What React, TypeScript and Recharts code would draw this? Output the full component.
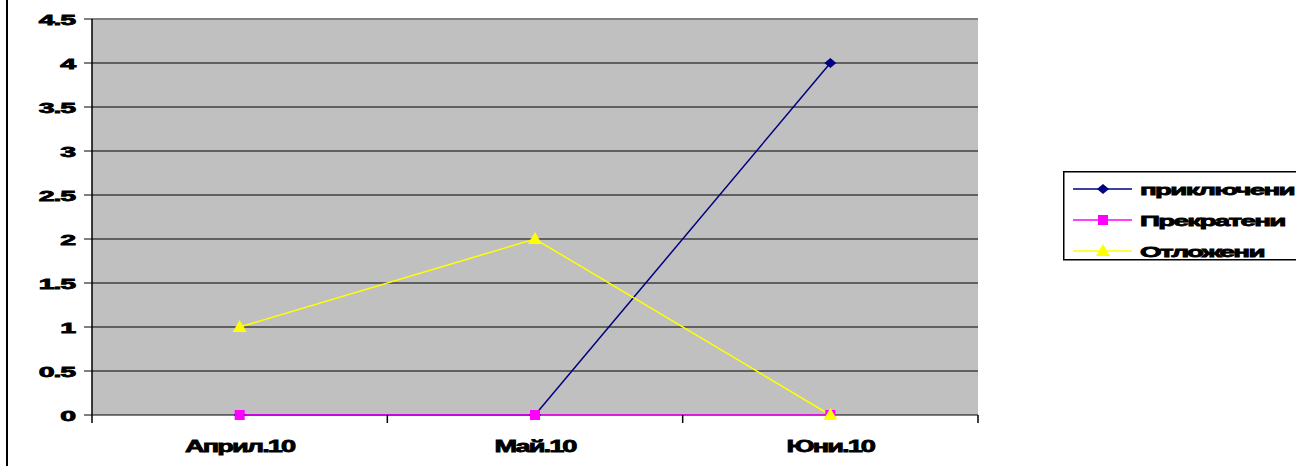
import { CartesianGrid, Line, LineChart, ReferenceLine, XAxis, YAxis } from "recharts";

const categories = ["Април.10", "Май.10", "Юни.10"];
const completed = [0, 0, 4];
const terminated = [0, 0, 0];
const postponed = [1, 2, 0];
const yTicks = [0, 0.5, 1, 1.5, 2, 2.5, 3, 3.5, 4, 4.5];
const xTicks = [0, 0.5, 1, 1.5, 2, 2.5, 3];
const seriesNames = ["приключени", "Прекратени", "Отложени"];
const seriesColors = ["#000080", "#FF00FF", "#FFFF00"];

const FONT = "'Liberation Sans', Arial, sans-serif";

const data = categories.map((c, i) => ({
  x: i + 0.5,
  name: c,
  a: completed[i],
  b: terminated[i],
  c: postponed[i],
}));

function Marker({ kind, cx, cy, color }: { kind: number; cx: number; cy: number; color: string }) {
  if (kind === 0)
    return <polygon points={`${cx},${cy - 5} ${cx + 6},${cy} ${cx},${cy + 5} ${cx - 6},${cy}`} fill={color} />;
  if (kind === 1) return <rect x={cx - 5} y={cy - 5} width={10} height={10} fill={color} />;
  return <polygon points={`${cx},${cy - 7} ${cx + 7},${cy + 5} ${cx - 7},${cy + 5}`} fill={color} />;
}

const dotFor = (kind: number) => (p: any) =>
  <Marker key={`${kind}-${p.index}`} kind={kind} cx={p.cx} cy={p.cy} color={seriesColors[kind]} />;

// excel-ish heavy, wide text
const heavy = { fontFamily: FONT, fontWeight: "bold" as const, fill: "#000", stroke: "#000", strokeWidth: 0.8 };

function YTick(p: any) {
  return (
    <text transform={`translate(${p.x},${p.y + 6}) scale(1.9,1)`} textAnchor="end" fontSize={15} letterSpacing={-0.6} {...heavy}>
      {String(p.payload.value)}
    </text>
  );
}

function XTick(p: any) {
  const v = p.payload.value;
  if (Number.isInteger(v)) {
    return <line x1={p.x} x2={p.x} y1={p.y - 8} y2={p.y} stroke="#000" strokeWidth={1.5} />;
  }
  return (
    <text transform={`translate(${p.x},${p.y + 29}) scale(1.6,1)`} textAnchor="middle" fontSize={17} letterSpacing={-1.2} {...heavy}>
      {categories[Math.floor(v)]}
    </text>
  );
}

function LegendBox() {
  const rows = [18, 49, 80];
  return (
    <svg width={240} height={92} style={{ position: "absolute", left: 1063, top: 171 }}>
      <rect x={0.75} y={0.75} width={245} height={88} fill="#fff" stroke="#000" strokeWidth={1.5} />
      {seriesNames.map((n, i) => (
        <g key={n}>
          <line x1={10} x2={69} y1={rows[i]} y2={rows[i]} stroke={seriesColors[i]} strokeWidth={1.5} />
          <Marker kind={i} cx={40} cy={rows[i]} color={seriesColors[i]} />
          <text transform={`translate(77,${rows[i] + 6}) scale(1.85,1)`} fontSize={15} letterSpacing={-0.9} {...heavy}>
            {n}
          </text>
        </g>
      ))}
    </svg>
  );
}

export default function App() {
  return (
    <div style={{ position: "absolute", left: 0, top: 0, width: 1296, height: 466, background: "#fff", overflow: "hidden" }}>
      <div style={{ position: "absolute", left: 6, top: 0, width: 2, height: 466, background: "#000" }} />
      <LineChart width={1296} height={466} data={data} margin={{ top: 19, right: 318, left: 12, bottom: 11 }}>
        <CartesianGrid yAxisId="l" vertical={false} stroke="#000" strokeWidth={1.2} fill="#C0C0C0" fillOpacity={1} />
        <XAxis
          type="number"
          dataKey="x"
          domain={[0, 3]}
          ticks={xTicks}
          interval={0}
          height={40}
          tickSize={8}
          tickMargin={0}
          tickLine={false}
          axisLine={false}
          tick={<XTick />}
        />
        <YAxis
          yAxisId="l"
          domain={[0, 4.5]}
          ticks={yTicks}
          interval={0}
          width={80}
          tickSize={8}
          tickMargin={9}
          tickLine={{ stroke: "#000", strokeWidth: 1 }}
          axisLine={{ stroke: "#000", strokeWidth: 1.5 }}
          tick={<YTick />}
        />
        <YAxis
          yAxisId="r"
          orientation="right"
          domain={[0, 4.5]}
          width={0}
          tick={false}
          tickLine={false}
          axisLine={{ stroke: "#808080", strokeWidth: 2 }}
        />
        <ReferenceLine yAxisId="l" y={4.5} stroke="#808080" strokeWidth={2} />
        <Line yAxisId="l" dataKey="a" name={seriesNames[0]} stroke={seriesColors[0]} strokeWidth={1.5} dot={dotFor(0)} isAnimationActive={false} />
        <Line yAxisId="l" dataKey="b" name={seriesNames[1]} stroke={seriesColors[1]} strokeWidth={1.5} dot={dotFor(1)} isAnimationActive={false} />
        <Line yAxisId="l" dataKey="c" name={seriesNames[2]} stroke={seriesColors[2]} strokeWidth={1.5} dot={dotFor(2)} isAnimationActive={false} />
      </LineChart>
      <LegendBox />
    </div>
  );
}
